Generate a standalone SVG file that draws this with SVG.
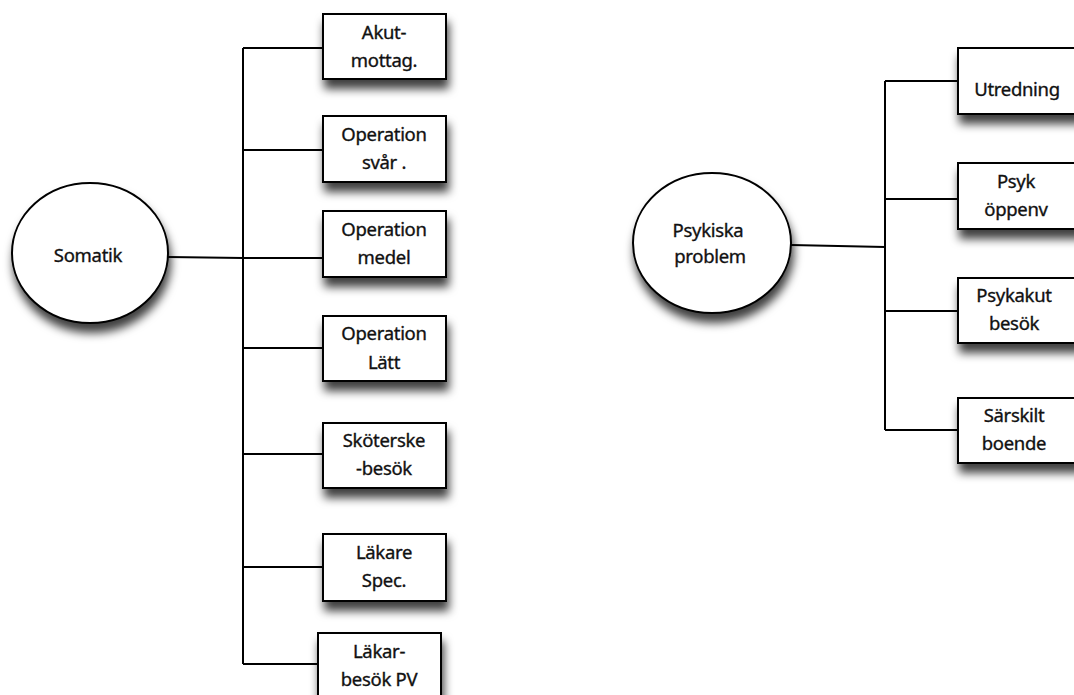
<svg xmlns="http://www.w3.org/2000/svg" width="1074" height="695" viewBox="0 0 1074 695">
<style>
.box{fill:#fff;stroke:#000;stroke-width:2;filter:url(#sh)}
.ell{fill:#fff;stroke:#000;stroke-width:2;filter:url(#sh)}
.t{font-family:"Noto Sans","Open Sans",sans-serif;font-size:18.5px;fill:#111;stroke:#111;stroke-width:0.35;text-anchor:middle;letter-spacing:-0.3px}
.c{fill:none;stroke:#000;stroke-width:2}
</style>
<defs>
<filter id="sh" x="-30%" y="-30%" width="160%" height="190%">
<feDropShadow dx="2" dy="9" stdDeviation="5" flood-color="#000" flood-opacity="0.75"/>
</filter>
</defs>
<rect width="1074" height="695" fill="#fff"/>
<g id="connectors">
<path class="c" d="M168 257 L243 258"/>
<path class="c" d="M243 48 L243 664"/>
<path class="c" d="M243 48 H323 M243 150 H323 M243 258 H323 M243 348 H323 M243 454 H323 M243 567 H323 M243 664 H318"/>
<path class="c" d="M791 245 L885 247"/>
<path class="c" d="M885 81 L885 430"/>
<path class="c" d="M885 81 H958 M885 199 H958 M885 311 H958 M885 430 H958"/>
</g>
<g id="somatik"><ellipse class="ell" cx="90" cy="253" rx="78" ry="70"/><text class="t" x="88" y="262">Somatik</text></g>
<g id="akut"><rect class="box" x="323" y="14" width="123" height="65"/><text class="t" x="384" y="39">Akut-</text><text class="t" x="384" y="67">mottag.</text></g>
<g id="op-svar"><rect class="box" x="323" y="116" width="123" height="66"/><text class="t" x="384" y="141">Operation</text><text class="t" x="384" y="169">svår .</text></g>
<g id="op-medel"><rect class="box" x="323" y="211" width="123" height="66"/><text class="t" x="384" y="236">Operation</text><text class="t" x="384" y="264">medel</text></g>
<g id="op-latt"><rect class="box" x="323" y="316" width="123" height="65"/><text class="t" x="384" y="340">Operation</text><text class="t" x="384" y="369">Lätt</text></g>
<g id="skoterske"><rect class="box" x="323" y="423" width="123" height="65"/><text class="t" x="384" y="447">Sköterske</text><text class="t" x="384" y="475">-besök</text></g>
<g id="lakare-spec"><rect class="box" x="323" y="534" width="123" height="67"/><text class="t" x="384" y="559">Läkare</text><text class="t" x="384" y="587">Spec.</text></g>
<g id="lakarbesok-pv"><rect class="box" x="318" y="633" width="123" height="66"/><text class="t" x="379" y="658">Läkar-</text><text class="t" x="379" y="686">besök PV</text></g>
<g id="psykiska"><ellipse class="ell" cx="712" cy="243" rx="79" ry="70"/><text class="t" x="708" y="237">Psykiska</text><text class="t" x="710" y="263">problem</text></g>
<g id="utredning"><rect class="box" x="958" y="48" width="123" height="66"/><text class="t" x="1017" y="96">Utredning</text></g>
<g id="psyk-oppenv"><rect class="box" x="958" y="163" width="123" height="66"/><text class="t" x="1016" y="188">Psyk</text><text class="t" x="1016" y="216">öppenv</text></g>
<g id="psykakut"><rect class="box" x="958" y="278" width="123" height="65"/><text class="t" x="1014" y="302">Psykakut</text><text class="t" x="1014" y="330">besök</text></g>
<g id="sarskilt"><rect class="box" x="958" y="398" width="123" height="65"/><text class="t" x="1014" y="422">Särskilt</text><text class="t" x="1014" y="450">boende</text></g>
</svg>
